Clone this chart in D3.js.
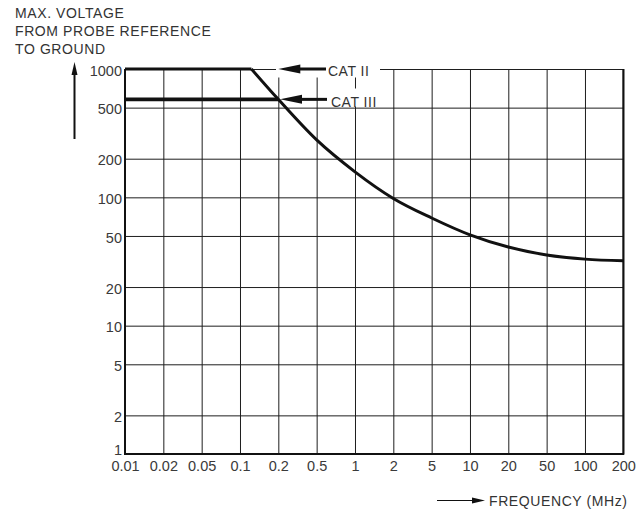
<!DOCTYPE html>
<html>
<head>
<meta charset="utf-8">
<script src="https://cdn.jsdelivr.net/npm/d3@7"></script>
<style>
	body { margin: 0; background: #fff; }
	svg text { font-family: "Liberation Sans", Arial, sans-serif; fill: #333; }
</style>
</head>
<body>
<div id="chart"></div>
<script>
var freqTicks = [0.01, 0.02, 0.05, 0.1, 0.2, 0.5, 1, 2, 5, 10, 20, 50, 100, 200];
var freqLabels = ["0.01", "0.02", "0.05", "0.1", "0.2", "0.5", "1", "2", "5", "10", "20", "50", "100", "200"];
var voltTicks = [1, 2, 5, 10, 20, 50, 100, 200, 500, 1000];

/* CAT II derating curve: flat part, then falling part */
var catIIFlatFreq = [0.01, 0.123];
var catIIFlatVolt = [1000, 1000];
var catIIFreq = [0.123, 0.2, 0.5, 1, 2, 5, 10, 20, 50, 100, 200];
var catIIVolt = [1000, 580, 280, 158, 98, 69, 51, 41, 35.6, 33, 32];
/* CAT III limit */
var catIIIFreq = [0.01, 0.2];
var catIIIVolt = [580, 580];

var titleLines = ["MAX. VOLTAGE", "FROM PROBE REFERENCE", "TO GROUND"];

var W = 643, H = 511,
	pLeft = 125, pRight = 623.3,
	pTop = 69, pBottom = 454;

var svg = d3.select("#chart").append("svg")
	.attr("width", W)
	.attr("height", H);

var step = (pRight - pLeft) / (freqTicks.length - 1);
/* frequencies are spaced evenly by tick, log inside each step */
var x = d3.scaleLog()
	.domain(freqTicks)
	.range(freqTicks.map(function (d, i) { return pLeft + i * step; }));
var y = d3.scaleLog().domain([1, 1000]).range([pBottom, pTop]);

// gridlines + labels
var gx = svg.append("g")
	.attr("transform", "translate(0," + pBottom + ")")
	.call(d3.axisBottom(x).tickValues(freqTicks)
		.tickSize(-(pBottom - pTop))
		.tickPadding(7)
		.tickFormat(function (d, i) { return freqLabels[i]; }));
var gy = svg.append("g")
	.attr("transform", "translate(" + pLeft + ",0)")
	.call(d3.axisLeft(y).tickValues(voltTicks)
		.tickSize(-(pRight - pLeft))
		.tickPadding(3)
		.tickFormat(d3.format("d")));

[gx, gy].forEach(function (g) {
	g.select(".domain").remove();
	g.selectAll(".tick line").attr("stroke", "#1e1e1e").attr("stroke-width", 1);
	g.selectAll(".tick text").attr("font-size", 14.5).style("fill", "#3a3a3a")
		.attr("font-family", "Liberation Sans, Arial, sans-serif");
});
gy.selectAll(".tick text").attr("dy", function (d) { return d === 1 ? "0.05em" : "0.42em"; });

// frame (left, bottom, right)
svg.append("path")
	.attr("d", "M" + pLeft + "," + pTop + "V" + pBottom + "H" + pRight + "V" + pTop)
	.attr("fill", "none")
	.attr("stroke", "#111")
	.attr("stroke-width", 2);

// white boxes behind the CAT labels
svg.append("rect").attr("x", 276).attr("y", 60).attr("width", 104).attr("height", 17.5).attr("fill", "#fff");
svg.append("rect").attr("x", 329).attr("y", 88.5).attr("width", 57).attr("height", 18).attr("fill", "#fff");

var lineLin = d3.line()
	.x(function (d) { return x(d[0]); })
	.y(function (d) { return y(d[1]); });
var lineCurve = d3.line()
	.x(function (d) { return x(d[0]); })
	.y(function (d) { return y(d[1]); })
	.curve(d3.curveMonotoneX);

svg.append("path")
	.attr("d", lineLin(d3.zip(catIIFlatFreq, catIIFlatVolt)))
	.attr("fill", "none").attr("stroke", "#111").attr("stroke-width", 3);
svg.append("path")
	.attr("d", lineCurve(d3.zip(catIIFreq, catIIVolt)))
	.attr("fill", "none").attr("stroke", "#111").attr("stroke-width", 3);
svg.append("path")
	.attr("d", lineLin(d3.zip(catIIIFreq, catIIIVolt)))
	.attr("fill", "none").attr("stroke", "#111").attr("stroke-width", 3.6);

// arrows to the labels
function leftArrow(tipX, yy, endX) {
	svg.append("line")
		.attr("x1", tipX + 15).attr("x2", endX)
		.attr("y1", yy).attr("y2", yy)
		.attr("stroke", "#111").attr("stroke-width", 3);
	svg.append("path")
		.attr("d", "M" + tipX + "," + yy + "L" + (tipX + 22) + "," + (yy - 4.5) + "L" + (tipX + 22) + "," + (yy + 4.5) + "Z")
		.attr("fill", "#111");
}
leftArrow(278.3, y(1000), 326);
leftArrow(280, y(catIIIVolt[0]), 327);

svg.append("text").attr("x", 328).attr("y", 75.5).attr("font-size", 14)
	.attr("letter-spacing", 0.5).text("CAT II");
svg.append("text").attr("x", 331).attr("y", 106.5).attr("font-size", 14)
	.attr("letter-spacing", 0.5).text("CAT III");

// title
svg.append("g").selectAll("text")
	.data(titleLines)
	.enter().append("text")
	.attr("x", 15)
	.attr("y", function (d, i) { return 18 + i * 18; })
	.attr("font-size", 14)
	.attr("letter-spacing", 0.6)
	.text(function (d) { return d; });

// vertical arrow
svg.append("line").attr("x1", 74.5).attr("x2", 74.5).attr("y1", 139).attr("y2", 72)
	.attr("stroke", "#111").attr("stroke-width", 2);
svg.append("path").attr("d", "M74.5,62L71.5,75L77.5,75Z").attr("fill", "#111");

// horizontal arrow + axis title
svg.append("line").attr("x1", 437).attr("x2", 475).attr("y1", 500.5).attr("y2", 500.5)
	.attr("stroke", "#111").attr("stroke-width", 1);
svg.append("path").attr("d", "M485,500.5L472,497.5L472,503.5Z").attr("fill", "#111");
svg.append("text").attr("x", 489).attr("y", 505.5).attr("font-size", 14)
	.attr("letter-spacing", 0.6).text("FREQUENCY (MHz)");
</script>
</body>
</html>
